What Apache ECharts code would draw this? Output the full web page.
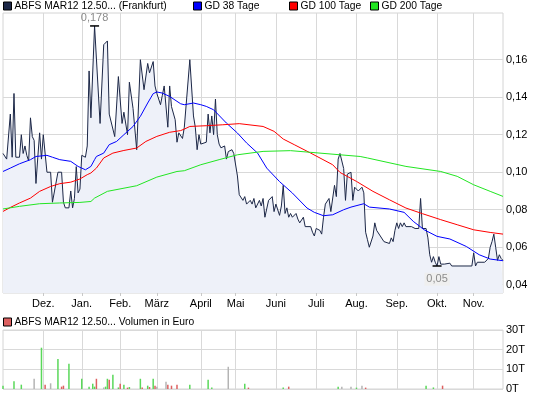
<!DOCTYPE html>
<html>
<head>
<meta charset="utf-8">
<script src="https://cdn.jsdelivr.net/npm/echarts@6/dist/echarts.min.js"></script>
<style>
  html, body { margin: 0; padding: 0; background: #fff; }
  #chart { width: 545px; height: 398px; }
</style>
</head>
<body>
<div id="chart"></div>
<script>
// trading days per month, Nov 2010 .. Nov 2011
const monthNames = ['Nov.', 'Dez.', 'Jan.', 'Feb.', 'März', 'April', 'Mai', 'Juni', 'Juli', 'Aug.', 'Sep.', 'Okt.', 'Nov.'];
const monthDays = [22, 21, 21, 20, 24, 19, 22, 22, 22, 22, 22, 20, 17];

// [day index, price]
const price = [
  [0,0.110],[2,0.107],[4,0.131],[5,0.108],[6,0.142],[7,0.108],[9,0.108],[10,0.120],[11,0.110],[12,0.114],
  [13,0.109],[14,0.106],[15,0.129],[16,0.119],[17,0.117],[18,0.094],[19,0.108],[20,0.121],[21,0.107],[22,0.120],
  [24,0.100],[26,0.100],[27,0.084],[28,0.084],[30,0.100],[31,0.100],[32,0.100],[33,0.084],[34,0.081],[36,0.081],
  [37,0.090],[38,0.081],[39,0.086],[40,0.103],[41,0.089],[42,0.091],[43,0.109],[45,0.108],[46,0.114],[47,0.154],
  [48,0.129],[50,0.178],[53,0.126],[55,0.168],[57,0.170],[58,0.131],[59,0.130],[61,0.119],[63,0.151],[65,0.126],
  [66,0.132],[68,0.120],[69,0.148],[71,0.134],[73,0.112],[74,0.112],[75,0.160],[76,0.159],[77,0.144],[79,0.158],
  [80,0.153],[81,0.154],[82,0.159],[83,0.146],[84,0.142],[86,0.136],[87,0.141],[88,0.146],[90,0.124],[91,0.146],
  [92,0.135],[94,0.128],[95,0.116],[96,0.121],[98,0.118],[99,0.124],[100,0.124],[102,0.160],[103,0.159],[104,0.130],
  [105,0.124],[106,0.112],[107,0.120],[108,0.115],[109,0.114],[111,0.116],[112,0.131],[113,0.121],[114,0.130],[115,0.120],
  [116,0.139],[117,0.120],[118,0.115],[119,0.113],[120,0.112],[121,0.114],[122,0.107],[123,0.111],[124,0.110],[125,0.112],
  [126,0.110],[127,0.109],[128,0.098],[129,0.088],[130,0.087],[131,0.085],[132,0.087],[133,0.083],[135,0.085],[136,0.083],
  [137,0.086],[138,0.081],[140,0.085],[141,0.082],[142,0.086],[143,0.076],[145,0.085],[146,0.084],[147,0.087],[148,0.079],
  [149,0.083],[151,0.077],[152,0.082],[153,0.093],[154,0.078],[155,0.081],[156,0.076],[157,0.078],[158,0.076],[159,0.075],
  [160,0.078],[161,0.075],[162,0.073],[164,0.076],[165,0.071],[166,0.072],[168,0.071],[169,0.068],[170,0.066],[171,0.070],
  [173,0.069],[174,0.067],[175,0.076],[176,0.083],[178,0.086],[179,0.079],[180,0.080],[181,0.093],[182,0.087],[183,0.107],
  [184,0.110],[185,0.109],[186,0.102],[187,0.085],[188,0.099],[190,0.100],[191,0.085],[192,0.092],[193,0.093],[194,0.090],
  [195,0.090],[196,0.092],[197,0.089],[198,0.068],[199,0.064],[200,0.060],[201,0.060],[202,0.066],[203,0.073],[204,0.069],
  [205,0.070],[206,0.066],[207,0.065],[208,0.063],[209,0.064],[211,0.062],[212,0.065],[213,0.063],[214,0.069],[215,0.073],
  [216,0.070],[217,0.073],[218,0.071],[219,0.073],[220,0.071],[221,0.070],[223,0.071],[225,0.070],[226,0.069],[227,0.070],
  [228,0.086],[229,0.070],[230,0.069],[231,0.070],[232,0.065],[233,0.056],[234,0.052],[235,0.055],[236,0.052],[237,0.050],
  [238,0.055],[239,0.051],[240,0.050],[241,0.051],[242,0.050],[244,0.0515],[245,0.050],[256,0.050],[257,0.057],[258,0.050],
  [259,0.052],[261,0.052],[263,0.052],[265,0.054],[266,0.060],[267,0.063],[268,0.067],[269,0.060],[270,0.053],[271,0.056],
  [272,0.054],[273,0.053]
];

const gd38 = [
  [0,0.1004],[4,0.1022],[9,0.1045],[15,0.1067],[18,0.1084],[24,0.109],[27,0.108],[31,0.1067],[37,0.1058],[41,0.1031],
  [45,0.1013],[48,0.1031],[50,0.1067],[51,0.1084],[55,0.1102],[58,0.1147],[62,0.1164],[66,0.12],[71,0.1244],[75,0.1298],
  [79,0.1369],[82,0.1419],[84,0.1428],[87,0.1422],[91,0.1404],[95,0.1378],[97,0.1365],[99,0.136],[104,0.1369],[108,0.136],
  [111,0.1351],[115,0.1333],[122,0.1262],[128,0.1209],[133,0.1156],[139,0.1102],[144,0.1022],[151,0.095],[158,0.0889],[166,0.0809],
  [170,0.0786],[175,0.0768],[180,0.0773],[186,0.08],[190,0.0814],[197,0.0832],[200,0.0814],[211,0.0804],[219,0.0786],[224,0.0738],
  [230,0.0693],[237,0.0658],[244,0.0644],[253,0.0604],[260,0.056],[266,0.0537],[273,0.0528]
];

const gd100 = [
  [0,0.0791],[4,0.0812],[9,0.0836],[15,0.0862],[20,0.0898],[26,0.0924],[31,0.0939],[37,0.0947],[42,0.0964],[46,0.0987],
  [48,0.0996],[51,0.1022],[53,0.1049],[55,0.1076],[60,0.1102],[66,0.1116],[73,0.1129],[78,0.1164],[84,0.1191],[91,0.1213],
  [97,0.1222],[99,0.123],[102,0.1244],[111,0.1248],[120,0.1253],[129,0.1259],[142,0.1244],[148,0.1218],[153,0.1177],[159,0.1147],
  [168,0.1102],[180,0.104],[184,0.0999],[193,0.0951],[202,0.0898],[211,0.0853],[220,0.0809],[229,0.0779],[239,0.0747],[248,0.072],
  [257,0.0693],[266,0.0679],[273,0.067]
];

const gd200 = [
  [0,0.0804],[9,0.0818],[20,0.0832],[31,0.0836],[42,0.0839],[48,0.0844],[50,0.0862],[57,0.0898],[73,0.0928],[84,0.0974],
  [95,0.1004],[99,0.1008],[108,0.104],[118,0.1067],[128,0.1093],[142,0.1111],[157,0.1115],[168,0.1106],[184,0.1093],[195,0.1084],
  [199,0.1076],[220,0.1031],[239,0.1004],[248,0.0978],[257,0.0933],[266,0.0898],[273,0.0871]
];

// volume in thousand euro, by colour
const volGreen = [
  [0,1.7],[6,3.9],[10,2.2],[21,21],[30,15.3],[36,12.8],[43,5.2],[47,1.2],[49,2.7],[50,1.2],[56,1.2],[57,5.2],
  [60,7.2],[63,0.8],[66,2.2],[69,1.0],[75,5.2],[79,1.7],[82,5.2],[102,2.2],[112,4.7],[114,0.7],[132,2.7],
  [153,0.7],[183,1.2],[193,0.7],[231,1.7],[235,0.8]
];
const volRed = [
  [23,2.2],[32,1.2],[33,1.7],[51,5.2],[58,4.7],[64,2.7],[68,0.7],[76,0.7],[80,1.0],[83,1.7],[90,2.2],[92,1.7],
  [95,2.2],[134,0.7],[156,1.2],[198,0.7],[240,1.7]
];
const volGray = [
  [17,5.2],[26,2.9],[55,0.8],[84,1.2],[89,3.7],[123,11.3],[185,1.2],[190,1.2],[196,1.7]
];

const priceTicks = [0.04, 0.06, 0.08, 0.10, 0.12, 0.14, 0.16];

const days = [];
const monthStart = {};
monthNames.forEach((m, i) => {
  monthStart[days.length] = m;
  for (let d = 0; d < monthDays[i]; d++) days.push(m + ' ' + (d + 1));
});
const isMonth = idx => idx > 0 && monthStart[idx] !== undefined;

const font = 'Liberation Sans, Arial, sans-serif';
const names = ['ABFS MAR12 12.50... (Frankfurt)', 'GD 38 Tage', 'GD 100 Tage', 'GD 200 Tage', 'ABFS MAR12 12.50... Volumen in Euro'];

function legendAt(left, top, name) {
  return {
    left: left, top: top, data: [name], icon: 'rect', itemWidth: 8, itemHeight: 8, itemGap: 0,
    selectedMode: false, padding: 0,
    itemStyle: { borderColor: '#000', borderWidth: 1 },
    textStyle: { fontSize: 10.3, color: '#000', fontFamily: font, padding: [0, 0, 0, -2] }
  };
}

const gridLine = { lineStyle: { color: '#d9d9d9', width: 1 } };

const option = {
  animation: false,
  backgroundColor: '#fff',
  legend: [
    legendAt(3, 1, names[0]),
    legendAt(193, 1, names[1]),
    legendAt(289, 1, names[2]),
    legendAt(370, 1, names[3]),
    legendAt(3, 317, names[4])
  ],
  grid: [
    { left: 3, right: 42, top: 13, height: 280, show: true, borderColor: '#d4d4d4', borderWidth: 1 },
    { left: 3, right: 42, top: 330, height: 59, show: true, borderColor: '#d4d4d4', borderWidth: 1 }
  ],
  xAxis: [
    {
      type: 'category', gridIndex: 0, data: days, boundaryGap: false,
      axisLine: { show: false },
      axisTick: { show: true, interval: isMonth, length: 3, lineStyle: { color: '#c8c8c8' } },
      axisLabel: {
        interval: isMonth, margin: 5, fontSize: 11, color: '#000', fontFamily: font,
        formatter: (v, idx) => monthStart[idx] || ''
      },
      splitLine: Object.assign({ show: true, interval: isMonth }, gridLine)
    },
    {
      type: 'category', gridIndex: 1, data: days, boundaryGap: false,
      axisLine: { show: false }, axisTick: { show: false }, axisLabel: { show: false },
      splitLine: Object.assign({ show: true, interval: isMonth }, gridLine)
    }
  ],
  yAxis: [
    {
      type: 'value', gridIndex: 0, position: 'right', min: 0.0356, max: 0.1849,
      axisLine: { show: false },
      axisTick: { show: false, customValues: priceTicks },
      axisLabel: {
        customValues: priceTicks, margin: 3, fontSize: 11, color: '#000', fontFamily: font,
        formatter: v => v.toFixed(2).replace('.', ',')
      },
      splitLine: Object.assign({ show: true }, gridLine)
    },
    {
      type: 'value', gridIndex: 1, position: 'right', min: 0, max: 30, interval: 10,
      axisLine: { show: false }, axisTick: { show: false },
      axisLabel: { margin: 3, fontSize: 11, color: '#000', fontFamily: font, formatter: v => v + 'T' },
      splitLine: Object.assign({ show: true }, gridLine)
    }
  ],
  series: [
    {
      name: names[0], type: 'line', data: price, xAxisIndex: 0, yAxisIndex: 0,
      symbol: 'none', color: '#1c2747', lineStyle: { width: 1, color: '#1c2747' },
      areaStyle: { color: '#eef1f9', opacity: 1 }, z: 2,
      markPoint: {
        symbol: 'rect', symbolSize: [9, 1.5], itemStyle: { color: '#000' },
        data: [
          { coord: [50, 0.178], value: '0,178',
            label: { show: true, position: 'top', distance: 2, color: '#8c8c8c', fontSize: 11, fontFamily: font, formatter: '{c}' } },
          { coord: [237, 0.05], value: '0,05',
            label: { show: true, position: 'bottom', distance: 6, color: '#8c8c8c', fontSize: 11, fontFamily: font,
              backgroundColor: '#efefef', padding: [1, 2], formatter: '{c}' } }
        ]
      }
    },
    { name: names[1], type: 'line', data: gd38, symbol: 'none', color: '#0000ff', lineStyle: { width: 1 }, z: 3 },
    { name: names[2], type: 'line', data: gd100, symbol: 'none', color: '#ff0000', lineStyle: { width: 1 }, z: 3 },
    { name: names[3], type: 'line', data: gd200, symbol: 'none', color: '#22e622', lineStyle: { width: 1 }, z: 3 },
    { name: 'up', type: 'bar', xAxisIndex: 1, yAxisIndex: 1, data: volGreen, barWidth: 1.5, barGap: '-100%', color: '#5ad85a' },
    { name: names[4], type: 'bar', xAxisIndex: 1, yAxisIndex: 1, data: volRed, barWidth: 1.5, barGap: '-100%', color: '#dd6060' },
    { name: 'flat', type: 'bar', xAxisIndex: 1, yAxisIndex: 1, data: volGray, barWidth: 1.5, barGap: '-100%', color: '#b4b4b4' }
  ]
};

const chart = echarts.init(document.getElementById('chart'), null, { renderer: 'canvas' });
chart.setOption(option);
</script>
</body>
</html>
